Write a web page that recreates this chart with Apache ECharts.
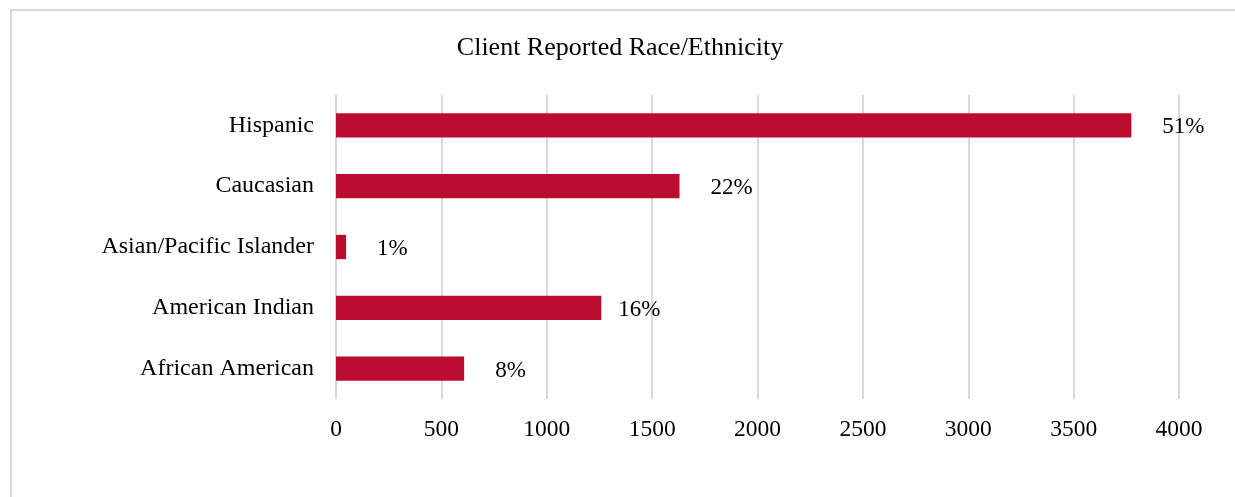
<!DOCTYPE html>
<html>
<head>
<meta charset="utf-8">
<title>Client Reported Race/Ethnicity</title>
<script src="https://cdn.jsdelivr.net/npm/echarts@6/dist/echarts.min.js"></script>
<style>
    html, body { margin: 0; padding: 0; background: #fff; }
    #chart { width: 1235px; height: 497px; }
</style>
</head>
<body>
<div id="chart"></div>
<script>
// categories, top to bottom as in the picture
let categories = ['Hispanic', 'Caucasian', 'Asian/Pacific Islander', 'American Indian', 'African American'];
let clientCounts = [3774, 1630, 48, 1259, 608];
let shareLabels = ['51%', '22%', '1%', '16%', '8%'];
let xTicks = [0, 500, 1000, 1500, 2000, 2500, 3000, 3500, 4000];

let font = '"Liberation Serif", "Times New Roman", serif';
let barColor = '#ba0c2f';

let chart = echarts.init(document.getElementById('chart'), null, {renderer: 'canvas'});

let data = clientCounts.map(function (v, i) {
    let item = {value: v, label: {formatter: shareLabels[i]}};
    // the 16% label sits closer to its bar in the original
    if (categories[i] === 'American Indian') {
        item.label.distance = 17;
    }
    return item;
});

let option = {
    backgroundColor: '#fff',
    animation: false,
    title: {
        text: 'Client Reported Race/Ethnicity',
        left: 620,
        top: 35,
        padding: 0,
        textAlign: 'center',
        textStyle: {
            fontFamily: font,
            fontSize: 26,
            fontWeight: 'normal',
            color: '#000'
        }
    },
    graphic: [{
        type: 'rect',
        shape: {x: 11, y: 10, width: 1400, height: 700},
        style: {fill: null, stroke: '#d9d9d9', lineWidth: 2},
        silent: true
    }],
    grid: {
        left: 336,
        right: 56,
        top: 95,
        bottom: 98,
        containLabel: false
    },
    xAxis: {
        type: 'value',
        min: xTicks[0],
        max: xTicks[xTicks.length - 1],
        interval: xTicks[1] - xTicks[0],
        axisLine: {show: false},
        axisTick: {show: false},
        splitLine: {show: true, lineStyle: {color: '#d9d9d9', width: 2}},
        axisLabel: {
            margin: 19,
            fontFamily: font,
            fontSize: 23.5,
            color: '#000',
            formatter: function (v) {
                return String(v);
            }
        }
    },
    yAxis: {
        type: 'category',
        inverse: true,
        data: categories,
        axisLine: {show: false},
        axisTick: {show: false},
        splitLine: {show: false},
        axisLabel: {
            margin: 22,
            fontFamily: font,
            fontSize: 24,
            color: '#000',
            padding: [3, 0, 0, 0]
        }
    },
    series: [{
        type: 'bar',
        data: data,
        barCategoryGap: '60%',
        itemStyle: {color: barColor},
        label: {
            show: true,
            position: 'right',
            distance: 31,
            offset: [0, 2],
            fontFamily: font,
            fontSize: 23,
            color: '#000'
        }
    }]
};

chart.setOption(option);
</script>
</body>
</html>
